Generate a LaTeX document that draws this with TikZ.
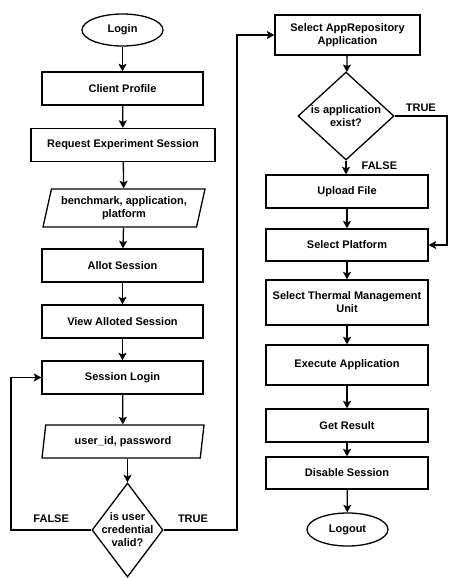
\documentclass[tikz,border=0pt]{standalone}
\usepackage{fontspec}
\setmainfont{Liberation Sans}
\usetikzlibrary{shapes.geometric,arrows.meta}
\begin{document}
\begin{tikzpicture}[x=1pt,y=-1pt,
  every node/.style={font=\fontsize{11}{13}\selectfont\bfseries, align=center, inner sep=0pt},
  stepbox/.style={draw, line width=1.3pt, minimum width=161pt, minimum height=33pt},
  term/.style={draw, ellipse, line width=1.3pt, minimum width=81pt, minimum height=32pt},
  io/.style={draw, trapezium, trapezium left angle=70, trapezium right angle=110,
    trapezium stretches body, line width=1.3pt, minimum width=162pt, minimum height=33pt},
  decide/.style={draw, diamond, line width=1.3pt},
  flow/.style={line width=1.3pt, -{Stealth[length=7.5pt,width=8pt,inset=1.5pt]}},
  tag/.style={above=7pt}
]
\useasboundingbox (0,0) rectangle (448,578);

% left column: login and session set-up
\node[term] (login) at (122.5,30) {Login};
\node[stepbox] (profile) at (122.5,88.5) {Client Profile};
\node[stepbox, minimum width=184pt] (request) at (123,145) {Request Experiment Session};
\node[io, minimum height=38pt] (params) at (124,208) {benchmark, application,\\platform};
\node[stepbox] (allot) at (122.5,265.5) {Allot Session};
\node[stepbox] (view) at (122.5,321.5) {View Alloted Session};
\node[stepbox] (slogin) at (122.5,377.5) {Session Login};
\node[io] (cred) at (123,441.5) {user\_id, password};
\node[decide, minimum width=71pt, minimum height=94pt] (valid) at (127.5,530) {};
\node (validtext) at (valid) {is user\\credential\\valid?};

% right column: experiment execution
\node[stepbox, minimum width=145pt, minimum height=40pt] (repo) at (347.5,35) {Select AppRepository\\Application};
\node[decide, minimum width=96pt, minimum height=88pt] (exist) at (346,116) {};
\node (existtext) at (exist) {is application\\exist?};
\node[stepbox, minimum width=162pt] (upload) at (347,191.5) {Upload File};
\node[stepbox, minimum width=162pt, minimum height=32pt] (platform) at (347,245) {Select Platform};
\node[stepbox, minimum width=162pt, minimum height=45pt] (thermal) at (347,302.5) {Select Thermal Management\\Unit};
\node[stepbox, minimum width=162pt, minimum height=40pt] (execute) at (347,365) {Execute Application};
\node[stepbox, minimum width=162pt] (result) at (347,425.5) {Get Result};
\node[stepbox, minimum width=162pt, minimum height=32pt] (disable) at (347,473) {Disable Session};
\node[term, minimum height=33pt] (logout) at (347.5,529.5) {Logout};

% routing columns for the loop-back lines
\coordinate (leftrail) at (11,0);
\coordinate (midrail) at (237,0);
\coordinate (rightrail) at (447,0);

% straight flow
\draw[flow] (login) -- (profile);
\draw[flow] (profile) -- (request);
\draw[flow] (request) -- (params);
\draw[flow] (params) -- (allot);
\draw[flow] (allot) -- (view);
\draw[flow] (view) -- (slogin);
\draw[flow] (slogin) -- (cred);
\draw[flow] (valid.north |- cred.south) -- (valid.north);

\draw[flow] (repo) -- (exist);
\draw[flow] (exist.south) -- node[pos=0.4, right=15pt] {FALSE} (upload.north -| exist.south);
\draw[flow] (upload) -- (platform);
\draw[flow] (platform) -- (thermal);
\draw[flow] (thermal) -- (execute);
\draw[flow] (execute) -- (result);
\draw[flow] (result) -- (disable);
\draw[flow] (disable) -- (logout);

% decisions
\draw[flow] (valid.west) -- node[tag] {FALSE} (valid.west -| leftrail) |- (slogin.west);
\draw[flow] (valid.east) -- node[tag, pos=0.4] {TRUE} (valid.east -| midrail) |- (repo.west);
\draw[flow] (exist.east) -- node[above=4pt] {TRUE} (exist.east -| rightrail) |- (platform.east);
\end{tikzpicture}
\end{document}
